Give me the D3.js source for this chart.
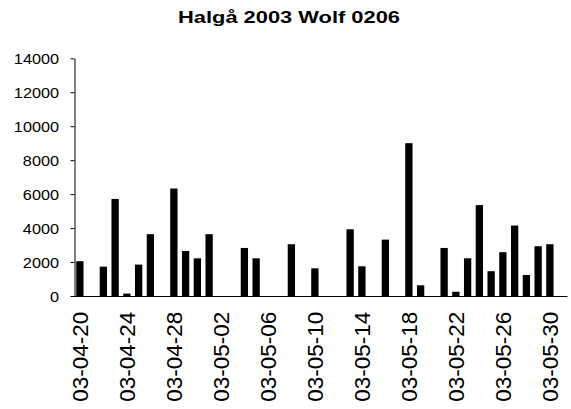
<!DOCTYPE html>
<html>
<head>
<meta charset="utf-8">
<script src="https://cdn.jsdelivr.net/npm/d3@7"></script>
<style>
	body { margin: 0; background: #fff; }
	text { font-family: "Liberation Sans", Arial, sans-serif; fill: #000; }
</style>
</head>
<body>
<svg id="chart" width="571" height="409"></svg>
<script>
var title = "Halgå 2003 Wolf 0206";

// days that have a value
var dates = ["2003-04-20", "2003-04-22", "2003-04-23", "2003-04-24", "2003-04-25", "2003-04-26",
	"2003-04-28", "2003-04-29", "2003-04-30", "2003-05-01", "2003-05-04", "2003-05-05",
	"2003-05-08", "2003-05-10", "2003-05-13", "2003-05-14", "2003-05-16", "2003-05-18",
	"2003-05-19", "2003-05-21", "2003-05-22", "2003-05-23", "2003-05-24", "2003-05-25",
	"2003-05-26", "2003-05-27", "2003-05-28", "2003-05-29", "2003-05-30"];
var values = [2050, 1730, 5720, 140, 1850, 3640,
	6330, 2650, 2220, 3640, 2830, 2220,
	3050, 1630, 3930, 1750, 3320, 9000,
	630, 2830, 250, 2220, 5350, 1460,
	2580, 4150, 1240, 2930, 3050];

var yTicks = [0, 2000, 4000, 6000, 8000, 10000, 12000, 14000];
var xTickLabels = ["03-04-20", "03-04-24", "03-04-28", "03-05-02", "03-05-06", "03-05-10",
	"03-05-14", "03-05-18", "03-05-22", "03-05-26", "03-05-30"];

var parse = d3.timeParse("%Y-%m-%d");
var fmt = d3.timeFormat("%y-%m-%d");
var start = parse("2003-04-20"), end = parse("2003-06-01");
var days = d3.timeDay.range(start, end).map(fmt);

var svg = d3.select("#chart");

var x = d3.scaleBand()
	.domain(days)
	.range([74, 567.5])
	.padding(0);

var y = d3.scaleLinear()
	.domain([0, 14000])
	.range([296, 58.3]);

var barW = 7.3;

// title
svg.append("text")
	.attr("x", 289)
	.attr("y", 22.5)
	.attr("text-anchor", "middle")
	.attr("textLength", 222)
	.attr("lengthAdjust", "spacingAndGlyphs")
	.style("font-size", "16px")
	.style("font-weight", "bold")
	.text(title);

// bars
svg.append("g")
	.selectAll("rect")
	.data(dates)
	.enter()
	.append("rect")
	.attr("x", function (d) { return x(fmt(parse(d))) + x.bandwidth() / 2 - barW / 2; })
	.attr("y", function (d, i) { return y(values[i]); })
	.attr("width", barW)
	.attr("height", function (d, i) { return y(0) - y(values[i]); })
	.style("fill", "#000");

// y axis
var yAxis = svg.append("g")
	.attr("transform", "translate(74.5,0)")
	.call(d3.axisLeft(y).tickValues(yTicks).tickSize(4).tickSizeOuter(0).tickFormat(d3.format("d")));
yAxis.select(".domain").attr("stroke", "#000");
yAxis.selectAll(".tick line").attr("stroke", "#000");
yAxis.selectAll(".tick text")
	.attr("x", -15.5)
	.attr("dy", "0.36em")
	.style("font-size", "14px")
	.style("font-family", "'Liberation Sans', Arial, sans-serif")
	.each(function () {
		var len = this.getComputedTextLength();
		d3.select(this).attr("textLength", len * 1.16).attr("lengthAdjust", "spacingAndGlyphs");
	});

// x axis line
svg.append("line")
	.attr("x1", x.range()[0])
	.attr("x2", x.range()[1])
	.attr("y1", y(0) + 0.5)
	.attr("y2", y(0) + 0.5)
	.style("stroke", "#000")
	.style("stroke-width", 1);

// x labels
svg.append("g")
	.selectAll("text")
	.data(xTickLabels)
	.enter()
	.append("text")
	.attr("transform", function (d) {
		var cx = x(d) + x.bandwidth() / 2 + 8;
		return "translate(" + cx + ",311.7) rotate(-90)";
	})
	.attr("text-anchor", "end")
	.style("font-size", "22.5px")
	.text(function (d) { return d; });
</script>
</body>
</html>
